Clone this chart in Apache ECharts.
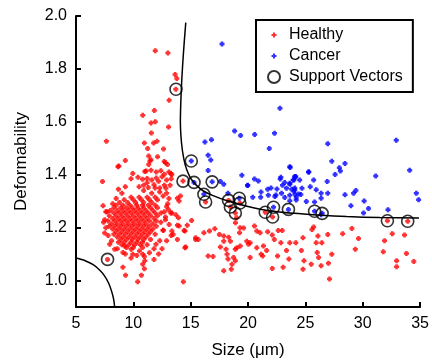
<!DOCTYPE html>
<html>
<head>
<meta charset="utf-8">
<script src="https://cdn.jsdelivr.net/npm/echarts@6/dist/echarts.min.js"></script>
<style>
html,body{margin:0;padding:0;background:#fff;}
#chart{width:432px;height:364px;}
</style>
</head>
<body>
<div id="chart"></div>
<script>
// ---- data ----
const xTicks = [5, 10, 15, 20, 25, 30, 35];
const yTicks = [1.0, 1.2, 1.4, 1.6, 1.8, 2.0];

// Healthy cells: [size, deformability]
const healthyCore = [
  [9.8,1.315],[10.5,1.315],[11.2,1.315],[11.9,1.315],
  [9.2,1.305],[10.0,1.305],[10.7,1.305],[11.4,1.305],[12.1,1.305],
  [8.8,1.295],[9.5,1.295],[10.2,1.295],[10.9,1.295],[11.6,1.295],
  [8.5,1.285],[9.1,1.285],[9.7,1.285],[10.3,1.285],[10.8,1.285],[11.3,1.285],[11.9,1.285],
  [8.3,1.275],[8.9,1.275],[9.4,1.275],[9.9,1.275],[10.4,1.275],[10.9,1.275],[11.5,1.275],[12.1,1.275],
  [8.0,1.265],[8.6,1.265],[9.1,1.265],[9.6,1.265],[10.1,1.265],[10.6,1.265],[11.1,1.265],[11.7,1.265],
  [8.3,1.255],[8.8,1.255],[9.3,1.255],[9.8,1.255],[10.3,1.255],[10.8,1.255],[11.3,1.255],[11.9,1.255],[12.4,1.255],
  [7.9,1.245],[8.5,1.245],[9.0,1.245],[9.5,1.245],[10.0,1.245],[10.5,1.245],[11.0,1.245],[11.5,1.245],[12.1,1.245],
  [8.2,1.235],[8.7,1.235],[9.2,1.235],[9.7,1.235],[10.2,1.235],[10.7,1.235],[11.2,1.235],[11.8,1.235],
  [7.8,1.225],[8.4,1.225],[8.9,1.225],[9.4,1.225],[9.9,1.225],[10.4,1.225],[10.9,1.225],[11.4,1.225],[12.0,1.225],
  [8.1,1.215],[8.6,1.215],[9.1,1.215],[9.6,1.215],[10.1,1.215],[10.6,1.215],[11.1,1.215],[11.7,1.215],
  [7.9,1.205],[8.4,1.205],[8.9,1.205],[9.4,1.205],[9.9,1.205],[10.4,1.205],[10.9,1.205],[11.4,1.205],[12.0,1.205],
  [8.2,1.195],[8.7,1.195],[9.2,1.195],[9.7,1.195],[10.2,1.195],[10.7,1.195],[11.2,1.195],[11.7,1.195],
  [8.5,1.185],[9.0,1.185],[9.5,1.185],[10.0,1.185],[10.5,1.185],[11.0,1.185],[11.5,1.185],
  [8.3,1.175],[8.8,1.175],[9.3,1.175],[9.8,1.175],[10.3,1.175],[10.8,1.175],[11.3,1.175],[11.9,1.175],
  [8.6,1.165],[9.1,1.165],[9.6,1.165],[10.1,1.165],[10.6,1.165],[11.1,1.165],
  [8.9,1.155],[9.4,1.155],[9.9,1.155],[10.4,1.155],[10.9,1.155],[11.5,1.155],
  [8.7,1.145],[9.2,1.145],[9.8,1.145],[10.3,1.145],[10.8,1.145],
  [9.0,1.135],[9.6,1.135],[10.1,1.135],[10.6,1.135],[11.2,1.135],
  [9.4,1.125],[10.0,1.125],[10.8,1.125],
  [11.6,1.33],[12.3,1.335],[10.9,1.34],[11.9,1.35],[12.6,1.32],[12.7,1.36],[11.2,1.37],
  [12.2,1.375],[9.0,1.33],[8.5,1.31],[8.2,1.29],[7.7,1.26],[7.5,1.23],[7.6,1.20],
  [7.8,1.17],[8.1,1.15],[12.4,1.22],[12.6,1.19],[12.3,1.15],[11.8,1.12],[11.4,1.105],
  [8.6,1.12],[9.3,1.10],[10.3,1.095],[11.0,1.075],[9.8,1.085],[12.8,1.24],[12.9,1.28],[13.1,1.31]
];
const healthyOuter = [
  [11.91,1.869],[13.01,1.86],[13.64,1.779],[13.79,1.764],[13.70,1.723],[13.12,1.682],
  [11.83,1.643],[10.82,1.625],[11.54,1.596],[11.91,1.60],[13.07,1.58],[11.57,1.558],
  [7.65,1.527],[10.96,1.52],[11.77,1.52],[12.06,1.527],[11.25,1.499],[12.63,1.497],
  [11.34,1.471],[12.11,1.468],[11.54,1.457],[12.69,1.45],[12.98,1.439],[9.30,1.454],
  [8.74,1.433],[11.34,1.439],[11.11,1.414],[11.54,1.417],[7.31,1.374],[13.35,1.401],
  [11.45,1.452],[12.80,1.445],[8.66,1.43],[11.0,1.412],[12.0,1.41],[12.4,1.415],
  [12.7,1.402],[13.1,1.41],[9.95,1.405],[9.8,1.385],[10.4,1.39],[10.8,1.383],
  [11.2,1.386],[11.6,1.38],[12.0,1.388],[12.5,1.392],[12.9,1.38],[13.3,1.385],
  [10.9,1.36],[10.5,1.355],[11.3,1.352],[11.8,1.362],[12.3,1.35],[12.84,1.349],
  [13.2,1.36],[9.3,1.355],[8.7,1.345],[13.27,1.405],[13.84,1.311],[13.99,1.301],
  [14.1,1.32],[13.07,1.268],[13.35,1.255],[13.93,1.237],[13.12,1.212],[13.84,1.209],
  [14.42,1.189],[14.7,1.209],[14.56,1.127],[15.43,1.162],[13.3,1.17],[12.9,1.15],
  [12.6,1.19],[12.8,1.23],[12.7,1.26],[13.0,1.29],[12.9,1.33],[7.36,1.283],[7.6,1.26],
  [7.4,1.22],[7.5,1.18],[7.94,1.137],[8.37,1.118],[9.24,1.131],[9.09,1.106],
  [9.81,1.118],[9.95,1.099],[10.53,1.112],[10.82,1.099],[10.96,1.091],[11.97,1.137],
  [9.09,1.05],[10.82,1.062],[9.32,1.02],[10.38,0.995],[10.7,1.02],[10.96,1.045],
  [14.36,0.995],[12.5,1.12],[12.2,1.10],[11.8,1.08],[7.75,1.08],
  [13.27,1.255],[13.7,1.249],[15.08,1.227],[13.99,1.206],[14.5,1.187],[13.36,1.187],
  [13.47,1.174],[13.84,1.155],[14.5,1.124],[15.43,1.155],[15.66,1.155],[16.15,1.181],
  [16.64,1.187],[17.1,1.196],[17.5,1.174],[17.88,1.168],[18.31,1.164],[17.88,1.149],
  [18.46,1.149],[16.52,1.093],[16.95,1.091],[17.59,1.127],[18.08,1.118],[18.17,1.099],
  [18.25,1.081],[18.74,1.087],[18.89,1.075],[18.6,1.062],[18.54,1.043],[17.88,1.037],
  [19.03,1.124],[19.32,1.131],[18.89,1.118],[19.26,1.181],[19.61,1.199],[19.89,1.149],
  [20.18,1.143],[20.04,1.137],[20.56,1.206],[20.76,1.187],[21.05,1.181],[21.71,1.184],
  [22.11,1.172],[22.63,1.189],[22.98,1.189],[22.29,1.155],[22.86,1.143],[20.76,1.124],
  [21.34,1.131],[21.62,1.114],[21.14,1.099],[21.28,1.093],[20.18,1.087],[22.57,1.093],
  [23.35,1.114],[23.64,1.143],[24.16,1.143],[23.56,1.081],[22.11,1.046],[23.06,1.05],
  [24.65,1.114],[24.79,1.162],[25.57,1.193],[25.72,1.202],[26.09,1.168],[25.94,1.143],
  [26.43,1.143],[26.03,1.106],[26.15,1.087],[27.3,1.099],[26.95,1.174],[24.88,1.075],
  [24.79,1.043],[25.51,1.062],[26.37,1.056],[27.01,1.065],[27.1,1.006],[28.25,1.177],
  [29.05,1.197],[29.63,1.159],[29.35,1.118],[31.9,1.15],[32.57,1.177],[31.79,1.109],
  [33.64,1.172],[33.81,1.102],[32.95,1.075],[32.95,1.052],[34.45,1.072],
  [19.0,1.237],[18.9,1.218],[19.3,1.20],
  [14.33,1.376],[16.3,1.297],[18.3,1.303],[18.46,1.278],[18.89,1.255],[19.29,1.293],
  [21.5,1.258],[22.14,1.24],[32.15,1.226],[33.92,1.224]
];
const cancer = [
  [17.73,1.894],[22.78,1.651],[18.83,1.565],[19.35,1.548],[20.58,1.552],[22.31,1.557],
  [21.85,1.499],[26.95,1.517],[32.92,1.53],[16.24,1.524],[16.81,1.532],[16.52,1.474],
  [16.75,1.456],[16.52,1.416],[19.46,1.398],[20.56,1.384],[20.9,1.376],[19.95,1.359],
  [21.71,1.345],[22.52,1.346],[22.8,1.384],[23.2,1.371],[23.64,1.364],[24.0,1.38],
  [24.16,1.393],[23.35,1.349],[22.92,1.33],[23.2,1.314],[23.64,1.322],[24.0,1.337],
  [24.2,1.314],[22.34,1.318],[21.77,1.322],[17.59,1.374],[17.88,1.364],[18.25,1.33],
  [20.41,1.315],[21.1,1.315],[27.3,1.451],[28.45,1.442],[27.96,1.426],[28.05,1.414],
  [27.59,1.401],[25.29,1.411],[23.64,1.43],[24.07,1.393],[23.93,1.38],[24.5,1.38],
  [25.72,1.38],[26.9,1.374],[31.13,1.395],[34.09,1.417],[23.64,1.368],[24.07,1.35],
  [24.07,1.343],[24.7,1.349],[25.42,1.355],[25.94,1.343],[26.37,1.33],[26.95,1.33],
  [24.1,1.325],[24.4,1.327],[24.6,1.325],[24.2,1.304],[25.08,1.299],[25.8,1.297],
  [26.37,1.311],[23.64,1.302],[28.45,1.324],[29.2,1.33],[29.4,1.34],[30.12,1.301],
  [28.97,1.283],[30.5,1.272],[30.07,1.255],[32.2,1.268],[34.67,1.33],[34.87,1.305],
  [26.37,1.249],[23.67,1.427],[25.28,1.409],[22.86,1.39],[24.1,1.39],
  [21.13,1.335],[22.43,1.323],[19.98,1.36],[22.0,1.35],[23.0,1.36],[23.8,1.345],
  [15.05,1.452],[15.29,1.371],[16.87,1.373],[16.15,1.326],[19.23,1.311],[22.22,1.277],
  [23.52,1.269],[25.8,1.262],[26.46,1.254]
];
const supportVectors = [
  [13.72,1.723],[7.75,1.08],[14.33,1.376],[16.3,1.297],[18.3,1.303],[18.46,1.278],
  [18.89,1.255],[19.29,1.293],[21.5,1.258],[22.14,1.24],[32.15,1.226],[33.92,1.224],
  [15.05,1.452],[15.29,1.371],[16.87,1.373],[16.15,1.326],[19.23,1.311],[22.22,1.277],
  [23.52,1.269],[25.8,1.262],[26.46,1.254]
];
// decision boundary
const boundaryUpper = [
  [14.57,1.975],[14.35,1.85],[14.18,1.72],[14.1,1.60],[14.2,1.52],[14.4,1.46],
  [14.65,1.42],[15.1,1.38],[15.9,1.345],[16.9,1.322],[18.3,1.30],[20.0,1.28],
  [22.0,1.263],[24.0,1.254],[26.0,1.248],[28.6,1.242],[31.5,1.238],[34.9,1.236]
];
const boundaryLower = [
  [5.0,1.085],[5.8,1.075],[6.5,1.06],[7.1,1.038],[7.5,1.017],[7.85,0.99],
  [8.1,0.96],[8.28,0.93],[8.37,0.90]
];

const healthy = healthyCore.concat(healthyOuter);
const FONT = 'Liberation Sans';
const dotPath = 'path://M1,0 H3 V1 H4 V3 H3 V4 H1 V3 H0 V1 H1 Z';
const legendDot = 'path://M0,0 M12,0 M0,12 M12,12 M5,3.5 H7 V5 H8.5 V7 H7 V8.5 H5 V7 H3.5 V5 H5 Z';

const chart = echarts.init(document.getElementById('chart'), null, {renderer: 'canvas'});
chart.setOption({
  animation: false,
  backgroundColor: '#fff',
  grid: {left: 76, right: 9, top: 16, bottom: 54},
  legend: {
    orient: 'vertical', left: 256, top: 20,
    padding: [7, 10, 7, 11],
    itemWidth: 20, itemHeight: 12, itemGap: 5,
    borderColor: '#000', borderWidth: 2, backgroundColor: '#fff',
    textStyle: {fontSize: 16, color: '#000', fontFamily: FONT, lineHeight: 16},
    data: [
      {name: 'Healthy', icon: legendDot},
      {name: 'Cancer', icon: legendDot},
      {name: 'Support Vectors', icon: 'circle'}
    ]
  },
  xAxis: {
    type: 'value', min: 5, max: 35, interval: 5,
    name: 'Size (μm)', nameLocation: 'middle', nameGap: 35,
    nameTextStyle: {fontSize: 17, color: '#000', fontFamily: FONT},
    axisLine: {onZero: false, lineStyle: {color: '#000', width: 2}},
    axisTick: {inside: true, length: 5, lineStyle: {color: '#000', width: 2}},
    axisLabel: {fontSize: 16, color: '#000', fontFamily: FONT, margin: 9},
    splitLine: {show: false}
  },
  yAxis: {
    type: 'value', min: 0.9, max: 2.0,
    name: 'Deformability', nameLocation: 'middle', nameGap: 46,
    nameTextStyle: {fontSize: 17, color: '#000', fontFamily: FONT},
    axisLine: {onZero: false, lineStyle: {color: '#000', width: 2}},
    axisTick: {inside: true, length: 5, customValues: yTicks, lineStyle: {color: '#000', width: 2}},
    axisLabel: {fontSize: 16, color: '#000', fontFamily: FONT, margin: 9,
      customValues: yTicks, formatter: v => v.toFixed(1)},
    splitLine: {show: false}
  },
  series: [
    {name: 'Healthy', type: 'scatter', data: healthy, symbol: dotPath, symbolSize: 5,
     itemStyle: {color: '#ff0000'}, z: 2},
    {name: 'Cancer', type: 'scatter', data: cancer, symbol: dotPath, symbolSize: 5,
     itemStyle: {color: '#0000ff'}, z: 3},
    {name: 'boundaryUpper', type: 'line', data: boundaryUpper, smooth: 0.3, symbol: 'none',
     lineStyle: {color: '#000', width: 1.5}, z: 4},
    {name: 'boundaryLower', type: 'line', data: boundaryLower, smooth: 0.3, symbol: 'none',
     lineStyle: {color: '#000', width: 1.5}, z: 4},
    {name: 'Support Vectors', type: 'scatter', data: supportVectors, symbol: 'circle', symbolSize: 12,
     itemStyle: {color: 'rgba(0,0,0,0)', borderColor: '#000', borderWidth: 1.6}, z: 5}
  ]
});
</script>
</body>
</html>
